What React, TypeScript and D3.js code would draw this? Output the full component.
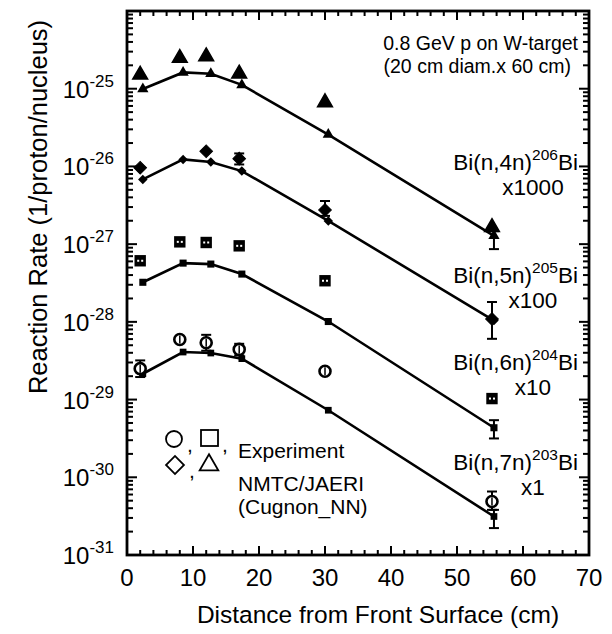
import React from "react";
import * as d3 from "d3";

const W = 612;
const H = 634;

// distances (cm)
const distCalc = [2.4, 8.5, 12.7, 17.4, 30.5, 55.6];
const distExp = [2.0, 8.0, 12.0, 17.0, 30.0, 55.3];

// plotted (scaled) reaction rates
const calc206 = [9.9e-26, 1.62e-25, 1.56e-25, 1.12e-25, 2.57e-26, 1.28e-27];
const exp206 = [1.51e-25, 2.48e-25, 2.6e-25, 1.56e-25, 6.67e-26, 1.65e-27];
const calc205 = [6.81e-27, 1.23e-26, 1.14e-26, 8.71e-27, 1.99e-27, 1.04e-28];
const exp205 = [9.62e-27, null, 1.57e-26, 1.26e-26, 2.75e-27, 1.09e-28];
const calc204 = [3.23e-28, 5.7e-28, 5.54e-28, 4.12e-28, 1.01e-28, 4.34e-30];
const exp204 = [6.11e-28, 1.07e-27, 1.05e-27, 9.51e-28, 3.38e-28, 1.03e-29];
const calc203 = [2.15e-29, 4.09e-29, 3.97e-29, 3.36e-29, 7.29e-30, 3.13e-31];
const exp203 = [2.5e-29, 5.93e-29, 5.38e-29, 4.42e-29, 2.31e-29, 4.88e-31];

// error bars [low, high]
const err206Calc = [null, null, null, null, null, [8.63e-28, 1.47e-27]];
const err205Exp = [null, null, null, [1.06e-26, 1.47e-26], [2.31e-27, 3.59e-27], [6.05e-29, 1.8e-28]];
const err204Calc = [null, null, null, null, null, [3.16e-30, 5.43e-30]];
const err203Exp = [[1.95e-29, 3.19e-29], null, [4.25e-29, 6.81e-29], [3.7e-29, 5.22e-29], null, [3.81e-31, 6.56e-31]];
const err203Calc = [null, null, null, null, null, [2.22e-31, 3.81e-31]];

const xTicksMajor = [0, 10, 20, 30, 40, 50, 60, 70];
const yExponents = [-31, -30, -29, -28, -27, -26, -25, -24];

const reactions = [
  { label: "Bi(n,4n)", mass: "206", factor: "x1000" },
  { label: "Bi(n,5n)", mass: "205", factor: "x100" },
  { label: "Bi(n,6n)", mass: "204", factor: "x10" },
  { label: "Bi(n,7n)", mass: "203", factor: "x1" },
];

const FONT = "'Liberation Sans', Arial, Helvetica, sans-serif";

export default function App() {
  const left = 127, right = 589, top = 11, bottom = 555;
  const x = d3.scaleLinear().domain([0, 70]).range([left, right]);
  const y = d3.scaleLog().domain([1e-31, 1e-24]).range([bottom, top]);

  const line = d3
    .line<[number, number]>()
    .x((d) => x(d[0]))
    .y((d) => y(d[1]));

  const pts = (vals: number[]) => distCalc.map((d, i) => [d, vals[i]] as [number, number]);

  const tri = (s: number) => d3.symbol().type(d3.symbolTriangle).size(s)() as string;
  const sq = (s: number) => d3.symbol().type(d3.symbolSquare).size(s)() as string;

  const xMinor = d3.range(0, 71, 2).filter((v) => v % 10 !== 0);
  const yMinor: number[] = [];
  yExponents.slice(0, -1).forEach((e) => {
    for (let k = 2; k <= 9; k++) yMinor.push(k * Math.pow(10, e));
  });

  const errBars = (errs: (number[] | null)[], xs: number[], key: string) =>
    errs.map((e, i) =>
      e ? (
        <g key={key + i} stroke="#000" strokeWidth={2}>
          <line x1={x(xs[i])} x2={x(xs[i])} y1={y(e[0])} y2={y(e[1])} />
          <line x1={x(xs[i]) - 5} x2={x(xs[i]) + 5} y1={y(e[0])} y2={y(e[0])} />
          <line x1={x(xs[i]) - 5} x2={x(xs[i]) + 5} y1={y(e[1])} y2={y(e[1])} />
        </g>
      ) : null
    );

  const calcSets = [
    { vals: calc206, marker: (cx: number, cy: number, k: string) => <path key={k} d={tri(55)} transform={`translate(${cx},${cy})`} fill="#000" /> },
    { vals: calc205, marker: (cx: number, cy: number, k: string) => <path key={k} d={sq(45)} transform={`translate(${cx},${cy}) rotate(45)`} fill="#000" /> },
    { vals: calc204, marker: (cx: number, cy: number, k: string) => <path key={k} d={sq(50)} transform={`translate(${cx},${cy})`} fill="#000" /> },
    { vals: calc203, marker: (cx: number, cy: number, k: string) => <path key={k} d={sq(45)} transform={`translate(${cx},${cy})`} fill="#000" /> },
  ];

  const labelY = [170, 283, 370, 470];

  return (
    <svg width={W} height={H} style={{ display: "block", position: "absolute", left: 0, top: 0, background: "#fff" }} fontFamily={FONT}>
      <rect x={0} y={0} width={W} height={H} fill="#fff" />

      {/* ticks */}
      <g stroke="#000" strokeWidth={2}>
        {xTicksMajor.map((v) => (
          <g key={"xM" + v}>
            <line x1={x(v)} x2={x(v)} y1={bottom} y2={bottom - 9} />
            <line x1={x(v)} x2={x(v)} y1={top} y2={top + 9} />
          </g>
        ))}
        {xMinor.map((v) => (
          <g key={"xm" + v}>
            <line x1={x(v)} x2={x(v)} y1={bottom} y2={bottom - 5} />
            <line x1={x(v)} x2={x(v)} y1={top} y2={top + 5} />
          </g>
        ))}
        {yExponents.map((e) => (
          <g key={"yM" + e}>
            <line x1={left} x2={left + 10} y1={y(Math.pow(10, e))} y2={y(Math.pow(10, e))} />
            <line x1={right} x2={right - 10} y1={y(Math.pow(10, e))} y2={y(Math.pow(10, e))} />
          </g>
        ))}
        {yMinor.map((v, i) => (
          <g key={"ym" + i}>
            <line x1={left} x2={left + 6} y1={y(v)} y2={y(v)} />
            <line x1={right} x2={right - 6} y1={y(v)} y2={y(v)} />
          </g>
        ))}
      </g>

      {/* frame */}
      <rect x={left} y={top} width={right - left} height={bottom - top} fill="none" stroke="#000" strokeWidth={2.8} />

      {/* tick labels */}
      {xTicksMajor.map((v) => (
        <text key={"xl" + v} x={x(v)} y={586} textAnchor="middle" fontSize={24}>
          {v}
        </text>
      ))}
      {yExponents.slice(0, -1).map((e) => (
        <text key={"yl" + e} x={114} y={y(Math.pow(10, e)) + 9} textAnchor="end" fontSize={24}>
          10
          <tspan fontSize={17} dy={-11}>
            {String(e)}
          </tspan>
        </text>
      ))}

      {/* axis titles */}
      <text x={378} y={623} textAnchor="middle" fontSize={24.5}>
        Distance from Front Surface (cm)
      </text>
      <text transform="translate(47,207) rotate(-90)" textAnchor="middle" fontSize={25.5}>
        Reaction Rate (1/proton/nucleus)
      </text>

      {/* calculation lines */}
      {calcSets.map((s, gi) => (
        <g key={"c" + gi}>
          <path d={line(pts(s.vals)) as string} fill="none" stroke="#000" strokeWidth={2.6} />
          {s.vals.map((v, i) => s.marker(x(distCalc[i]), y(v), "cm" + gi + i))}
        </g>
      ))}
      {errBars(err206Calc, distCalc, "e206c")}
      {errBars(err204Calc, distCalc, "e204c")}
      {errBars(err203Calc, distCalc, "e203c")}
      {errBars(err205Exp, distExp, "e205e")}
      {errBars(err203Exp, distExp, "e203e")}

      {/* experiment markers */}
      {exp206.map((v, i) => (
        <path key={"t" + i} d={tri(95)} transform={`translate(${x(distExp[i])},${y(v)})`} fill="#000" stroke="#000" strokeWidth={1.5} />
      ))}
      {exp205.map((v, i) =>
        v == null ? null : (
          <path key={"d" + i} d={sq(80)} transform={`translate(${x(distExp[i])},${y(v)}) rotate(45)`} fill="#000" stroke="#000" strokeWidth={1} />
        )
      )}
      {exp204.map((v, i) => (
        <g key={"s" + i} transform={`translate(${x(distExp[i])},${y(v)})`}>
          <path d={sq(130)} fill="#000" />
          <rect x={-3} y={-1} width={2} height={2} fill="#fff" />
          <rect x={1} y={-1} width={2} height={2} fill="#fff" />
        </g>
      ))}
      {exp203.map((v, i) => (
        <g key={"o" + i} transform={`translate(${x(distExp[i])},${y(v)})`}>
          <circle r={5.5} fill="#fff" stroke="#000" strokeWidth={2.6} />
          <line x1={0} x2={0} y1={-4} y2={4} stroke="#000" strokeWidth={1.5} />
        </g>
      ))}

      {/* annotation */}
      <text x={578} y={50} textAnchor="end" fontSize={19.5}>
        0.8 GeV p on W-target
      </text>
      <text x={571} y={73} textAnchor="end" fontSize={19.5}>
        (20 cm diam.x 60 cm)
      </text>

      {reactions.map((r, i) => (
        <g key={"r" + i}>
          <text x={578} y={labelY[i]} textAnchor="end" fontSize={22.5}>
            {r.label}
            <tspan fontSize={15.5} dy={-10}>
              {r.mass}
            </tspan>
            <tspan dy={10}>Bi</tspan>
          </text>
          <text x={533} y={labelY[i] + 25} textAnchor="middle" fontSize={22.5}>
            {r.factor}
          </text>
        </g>
      ))}

      {/* legend */}
      <g stroke="#000" strokeWidth={1.8} fill="none">
        <circle cx={174} cy={439} r={8} />
        <rect x={201} y={430} width={17} height={16} />
        <path d={sq(160)} transform="translate(175,465) rotate(45)" />
        <path d={tri(150)} transform="translate(209,465)" />
      </g>
      <text x={187} y={452} fontSize={21}>,</text>
      <text x={222} y={452} fontSize={21}>,</text>
      <text x={189} y={478} fontSize={21}>,</text>
      <text x={238} y={458} fontSize={21}>Experiment</text>
      <text x={238} y={491} fontSize={21}>NMTC/JAERI</text>
      <text x={238} y={514} fontSize={21}>(Cugnon_NN)</text>
    </svg>
  );
}
